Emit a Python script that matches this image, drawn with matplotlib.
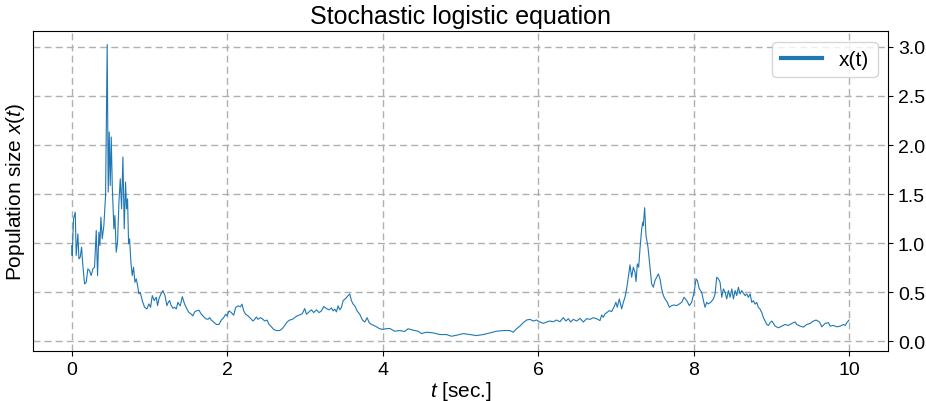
import matplotlib
matplotlib.use("Agg")
import matplotlib.pyplot as plt

plt.rcParams['font.family'] = ['Liberation Sans', 'DejaVu Sans']
plt.rcParams['mathtext.fontset'] = 'custom'
plt.rcParams['mathtext.rm'] = 'Liberation Sans'
plt.rcParams['mathtext.it'] = 'Liberation Sans:italic'

t = [0.000, 0.004, 0.022, 0.044, 0.056, 0.078, 0.091, 0.108, 0.125, 0.142, 0.164,
     0.185, 0.206, 0.228, 0.249, 0.271, 0.292, 0.314, 0.331, 0.348, 0.361, 0.374,
     0.391, 0.412, 0.434, 0.455, 0.468, 0.481, 0.494, 0.507, 0.520, 0.541, 0.554,
     0.571, 0.588, 0.606, 0.623, 0.640, 0.657, 0.674, 0.691, 0.704, 0.717, 0.730,
     0.743, 0.760, 0.777, 0.794, 0.812, 0.829, 0.846, 0.863, 0.880, 0.906, 0.936,
     0.966, 0.992, 1.013, 1.035, 1.060, 1.086, 1.103, 1.120, 1.146, 1.172, 1.198,
     1.223, 1.241, 1.258, 1.279, 1.301, 1.322, 1.344, 1.365,
     1.378, 1.395, 1.421, 1.451, 1.481, 1.507, 1.537, 1.558, 1.580, 1.601, 1.636,
     1.666, 1.687, 1.721, 1.751, 1.773, 1.794, 1.824, 1.859, 1.893, 1.923, 1.953,
     1.979, 1.996, 2.022, 2.052, 2.082, 2.108, 2.138, 2.168, 2.189, 2.211, 2.236,
     2.267, 2.297, 2.331, 2.352, 2.374, 2.395, 2.425, 2.451, 2.481, 2.511, 2.537,
     2.567, 2.597, 2.631, 2.674, 2.709, 2.739, 2.769, 2.803, 2.837, 2.867, 2.897,
     2.932, 2.966, 2.996, 3.018, 3.052, 3.082, 3.112, 3.146, 3.181, 3.211, 3.241,
     3.275, 3.309, 3.340, 3.361, 3.382, 3.404, 3.425, 3.447, 3.468, 3.490, 3.524,
     3.554, 3.576, 3.597, 3.619, 3.640, 3.670, 3.704, 3.739, 3.769, 3.799, 3.825,
     3.855, 3.885, 3.919, 3.953, 3.996, 4.039, 4.090,
     4.155, 4.220, 4.280, 4.326, 4.391, 4.455, 4.498, 4.563, 4.648, 4.734, 4.820,
     4.884, 4.949, 5.035, 5.120, 5.206, 5.292, 5.378, 5.464, 5.550, 5.636, 5.678,
     5.721, 5.764, 5.807, 5.850, 5.893, 5.936, 5.979, 6.022, 6.065, 6.108, 6.151,
     6.193, 6.236, 6.279, 6.322, 6.357, 6.387, 6.417, 6.451, 6.494, 6.537, 6.580,
     6.623, 6.666, 6.708, 6.751, 6.794,
     6.816, 6.837, 6.858, 6.888, 6.914, 6.944, 6.974, 6.999, 7.017, 7.043, 7.073,
     7.095, 7.116, 7.137, 7.159, 7.180, 7.202, 7.223, 7.245, 7.258, 7.275, 7.292,
     7.309, 7.331, 7.344, 7.352, 7.369, 7.386, 7.412, 7.438, 7.459, 7.481, 7.502,
     7.524, 7.545, 7.567, 7.588, 7.610, 7.631, 7.661, 7.687, 7.717, 7.747, 7.781,
     7.816, 7.846, 7.876, 7.910, 7.944, 7.974, 8.005, 8.030, 8.047, 8.073, 8.103,
     8.125, 8.146, 8.168, 8.189, 8.219, 8.254, 8.275, 8.296, 8.318, 8.339, 8.361,
     8.382, 8.404, 8.425, 8.447, 8.468, 8.490, 8.511, 8.533, 8.554, 8.575, 8.597,
     8.618, 8.661, 8.683, 8.704, 8.726, 8.747, 8.768, 8.790, 8.811, 8.833, 8.854,
     8.876, 8.897, 8.919, 8.940, 8.962, 8.983, 9.005, 9.026, 9.047, 9.090, 9.133,
     9.176, 9.219, 9.262, 9.305, 9.326, 9.369, 9.412, 9.455, 9.498, 9.541, 9.575,
     9.618, 9.648, 9.691, 9.734, 9.755, 9.798, 9.841, 9.884, 9.927, 9.948, 9.970,
     9.999]

x = [0.976, 0.874, 1.248, 1.316, 0.874, 1.095, 0.840, 0.857, 0.959, 0.772, 0.585,
     0.602, 0.738, 0.721, 0.670, 0.738, 0.755, 1.129, 0.670, 1.112, 0.976, 1.265,
     1.044, 1.180, 1.486, 3.024, 1.520, 2.133, 1.588, 2.082, 1.588, 1.146, 1.282,
     0.908, 1.010, 1.418, 1.656, 1.350, 1.878, 1.146, 1.622, 1.350, 1.452, 0.993,
     1.044, 0.806, 0.670, 0.755, 0.602, 0.636, 0.568, 0.483, 0.500, 0.415, 0.347,
     0.330, 0.381, 0.347, 0.466, 0.415, 0.449, 0.364, 0.432, 0.483, 0.517, 0.466,
     0.364, 0.398, 0.415, 0.364, 0.337, 0.347, 0.330, 0.398,
     0.379, 0.362, 0.455, 0.379, 0.328, 0.293, 0.276, 0.259, 0.300, 0.310, 0.317,
     0.276, 0.259, 0.231, 0.224, 0.241, 0.217, 0.197, 0.172, 0.172, 0.217, 0.241,
     0.276, 0.259, 0.310, 0.293, 0.266, 0.345, 0.362, 0.352, 0.379, 0.310, 0.276,
     0.259, 0.234, 0.207, 0.224, 0.248, 0.224, 0.241, 0.231, 0.207, 0.217, 0.172,
     0.148, 0.121, 0.110, 0.110, 0.131, 0.162, 0.197, 0.217, 0.224, 0.241, 0.259,
     0.269, 0.283, 0.334, 0.276, 0.300, 0.321, 0.293, 0.321, 0.293, 0.310, 0.355,
     0.334, 0.321, 0.341, 0.310, 0.328, 0.300, 0.362, 0.321, 0.345, 0.414, 0.438,
     0.466, 0.483, 0.414, 0.379, 0.362, 0.310, 0.276, 0.217, 0.197, 0.241, 0.190,
     0.172, 0.162, 0.148, 0.131, 0.121, 0.128, 0.131,
     0.103, 0.110, 0.100, 0.128, 0.114, 0.103, 0.079, 0.093, 0.086, 0.069, 0.069,
     0.052, 0.062, 0.079, 0.069, 0.059, 0.069, 0.086, 0.103, 0.110, 0.110, 0.093,
     0.128, 0.155, 0.190, 0.217, 0.224, 0.207, 0.217, 0.197, 0.183, 0.197, 0.207,
     0.200, 0.217, 0.200, 0.241, 0.207, 0.231, 0.197, 0.224, 0.207, 0.234, 0.197,
     0.231, 0.224, 0.241, 0.231, 0.211,
     0.269, 0.245, 0.279, 0.296, 0.313, 0.303, 0.347, 0.398, 0.347, 0.432, 0.330,
     0.398, 0.449, 0.534, 0.653, 0.779, 0.653, 0.755, 0.704, 0.609, 0.789, 0.755,
     0.942, 1.146, 1.214, 1.180, 1.361, 1.078, 0.959, 0.755, 0.585, 0.551, 0.619,
     0.653, 0.687, 0.636, 0.534, 0.466, 0.432, 0.398, 0.347, 0.364, 0.371, 0.364,
     0.381, 0.398, 0.449, 0.415, 0.364, 0.398, 0.500, 0.636, 0.619, 0.534, 0.500,
     0.415, 0.347, 0.398, 0.381, 0.398, 0.432, 0.483, 0.653, 0.636, 0.602, 0.449,
     0.534, 0.500, 0.432, 0.517, 0.449, 0.534, 0.432, 0.517, 0.466, 0.551, 0.483,
     0.517, 0.466, 0.483, 0.448, 0.483, 0.397, 0.414, 0.379, 0.397, 0.345, 0.328,
     0.293, 0.241, 0.207, 0.172, 0.162, 0.190, 0.207, 0.183, 0.155, 0.138, 0.155,
     0.172, 0.162, 0.183, 0.197, 0.172, 0.155, 0.145, 0.172, 0.183, 0.207, 0.217,
     0.197, 0.148, 0.183, 0.190, 0.155, 0.162, 0.148, 0.155, 0.172, 0.162, 0.190,
     0.217]

fig, ax = plt.subplots(figsize=(9.26, 4.02), dpi=100)
fig.subplots_adjust(left=0.0356, right=0.959, top=0.920, bottom=0.124)

ax.plot(t, x, color='#1f77b4', lw=0.8, label='x(t)')
ax.set_xlim(-0.5, 10.5)
ax.set_ylim(-0.1, 3.16)

ax.grid(True, linestyle=(0, (5, 3)), color='#b0b0b0', lw=1)
ax.yaxis.tick_right()
ax.set_yticks([0.0, 0.5, 1.0, 1.5, 2.0, 2.5, 3.0])
ax.tick_params(labelsize=14)

ax.set_title('Stochastic logistic equation', fontsize=18)
ax.set_xlabel('$t$ [sec.]', fontsize=15, labelpad=1)
ax.set_ylabel('Population size $x(t)$', fontsize=15)

leg = ax.legend(loc='upper right', fontsize=15)
for line in leg.get_lines():
    line.set_linewidth(3)

fig.savefig('out.png', dpi=100)
